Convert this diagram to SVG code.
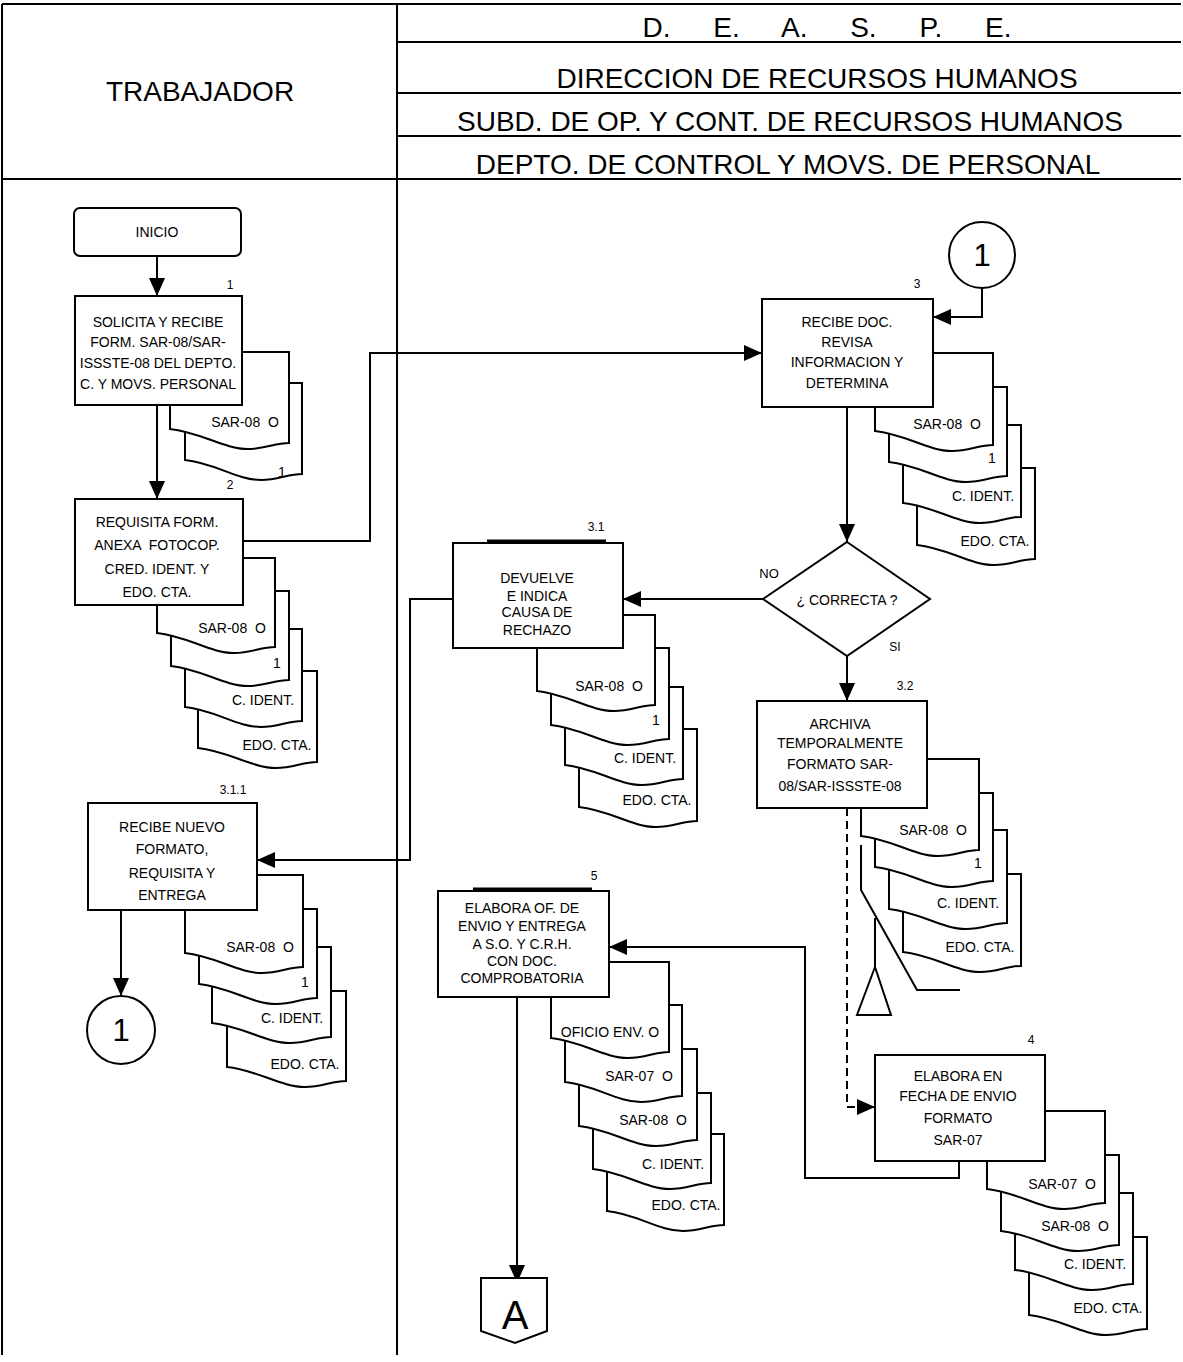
<svg xmlns="http://www.w3.org/2000/svg" width="1183" height="1362" viewBox="0 0 1183 1362">
<style>
.ln{stroke:#000;stroke-width:2;fill:none}
.dash{stroke:#000;stroke-width:2;fill:none;stroke-dasharray:8 5}
.box{fill:#fff;stroke:#000;stroke-width:2}
.doc{fill:#fff;stroke:#000;stroke-width:2;stroke-linejoin:miter}
text{font-family:"Liberation Sans",Arial,sans-serif;fill:#000}
.t{font-size:14px;text-anchor:middle}
.d{font-size:14px;text-anchor:middle;white-space:pre}
.lbl{font-size:12px;text-anchor:middle}
.h{font-size:28px;text-anchor:middle}
.big{font-size:31px;text-anchor:middle}
</style>
<defs>
<marker id="ah" viewBox="0 0 18 16" refX="18" refY="8" markerWidth="18" markerHeight="16" markerUnits="userSpaceOnUse" orient="auto">
<path d="M0,0 L18,8 L0,16 Z" fill="#000"/>
</marker>
</defs>

<g id="header">
<path class="ln" d="M2,4 H1181 M2,4 V1355 M397,4 V1355 M397,42 H1181 M397,93 H1181 M397,136 H1181 M2,179 H1181"/>
<text class="h" x="200" y="101">TRABAJADOR</text>
<text class="h" x="827" y="37" word-spacing="35">D. E. A. S. P. E.</text>
<text class="h" x="817" y="88">DIRECCION DE RECURSOS HUMANOS</text>
<text class="h" x="790" y="131">SUBD. DE OP. Y CONT. DE RECURSOS HUMANOS</text>
<text class="h" x="788" y="174">DEPTO. DE CONTROL Y MOVS. DE PERSONAL</text>
</g>

<g id="connectors">
<path class="ln" d="M157,257 V296" marker-end="url(#ah)"/>
<path class="ln" d="M157,405 V499" marker-end="url(#ah)"/>
<path class="ln" d="M243,541 H370 V353 H762" marker-end="url(#ah)"/>
<path class="ln" d="M982,288 V317 H933" marker-end="url(#ah)"/>
<path class="ln" d="M847,407 V542" marker-end="url(#ah)"/>
<path class="ln" d="M763,599 H623" marker-end="url(#ah)"/>
<path class="ln" d="M847,656 V701" marker-end="url(#ah)"/>
<path class="ln" d="M453,599 H410 V860 H257" marker-end="url(#ah)"/>
<path class="ln" d="M121,910 V996" marker-end="url(#ah)"/>
<path class="dash" d="M847,808 V1107 H875" marker-end="url(#ah)"/>
<path class="ln" d="M959,1161 V1178 H805 V947 H609" marker-end="url(#ah)"/>
<path class="ln" d="M517,997 V1283" marker-end="url(#ah)"/>
</g>

<g id="inicio">
<rect class="box" x="74" y="208" width="167" height="48" rx="6"/>
<text class="t" x="157" y="237">INICIO</text>
</g>

<g id="step1">
<path class="doc" d="M185,383 H302 V474 C288,474 278,480 261,480 C237,480 215,463 185,460 Z"/>
<text class="d" x="282" y="477">1</text>
<path class="doc" d="M170,352 H289 V443 C275,443 265,449 248,449 C224,449 200,432 170,429 Z"/>
<text class="d" x="245" y="427">SAR-08  O</text>
<rect class="box" x="75" y="296" width="167" height="109"/>
<text class="lbl" x="230" y="289">1</text>
<text class="t" x="158" y="327">SOLICITA Y RECIBE</text>
<text class="t" x="158" y="347">FORM. SAR-08/SAR-</text>
<text class="t" x="158" y="368">ISSSTE-08 DEL DEPTO.</text>
<text class="t" x="158" y="389">C. Y MOVS. PERSONAL</text>
</g>

<g id="step2">
<path class="doc" d="M198,671 H317 V762 C303,762 293,768 276,768 C252,768 228,751 198,748 Z"/>
<text class="d" x="277" y="750">EDO. CTA.</text>
<path class="doc" d="M185,629 H302 V721 C288,721 278,727 261,727 C237,727 215,710 185,707 Z"/>
<text class="d" x="263" y="705">C. IDENT.</text>
<path class="doc" d="M171,591 H289 V680 C275,680 265,686 248,686 C224,686 201,669 171,666 Z"/>
<text class="d" x="277" y="668">1</text>
<path class="doc" d="M157,558 H275 V647 C261,647 251,653 234,653 C210,653 187,636 157,633 Z"/>
<text class="d" x="232" y="633">SAR-08  O</text>
<rect class="box" x="75" y="499" width="168" height="106"/>
<text class="lbl" x="230" y="489">2</text>
<text class="t" x="157" y="527">REQUISITA FORM.</text>
<text class="d" x="157" y="550">ANEXA  FOTOCOP.</text>
<text class="t" x="157" y="574">CRED. IDENT. Y</text>
<text class="t" x="157" y="597">EDO. CTA.</text>
</g>

<g id="connector-1-top">
<circle class="box" cx="982" cy="255" r="33"/>
<text class="big" x="982" y="266">1</text>
</g>

<g id="step3">
<path class="doc" d="M917,468 H1035 V559 C1021,559 1011,565 994,565 C970,565 947,548 917,545 Z"/>
<text class="d" x="995" y="546">EDO. CTA.</text>
<path class="doc" d="M903,425 H1021 V517 C1007,517 997,523 980,523 C956,523 933,506 903,503 Z"/>
<text class="d" x="983" y="501">C. IDENT.</text>
<path class="doc" d="M889,387 H1007 V476 C993,476 983,482 966,482 C942,482 919,465 889,462 Z"/>
<text class="d" x="992" y="463">1</text>
<path class="doc" d="M875,353 H993 V445 C979,445 969,451 952,451 C928,451 905,434 875,431 Z"/>
<text class="d" x="947" y="429">SAR-08  O</text>
<rect class="box" x="762" y="299" width="171" height="108"/>
<text class="lbl" x="917" y="288">3</text>
<text class="t" x="847" y="327">RECIBE DOC.</text>
<text class="t" x="847" y="347">REVISA</text>
<text class="t" x="847" y="367">INFORMACION Y</text>
<text class="t" x="847" y="388">DETERMINA</text>
</g>

<g id="decision">
<polygon class="box" points="847,542 930,599 847,656 763,599"/>
<text class="t" x="847" y="605">¿ CORRECTA ?</text>
<text class="lbl" x="769" y="578" style="font-size:13px">NO</text>
<text class="lbl" x="895" y="651">SI</text>
</g>

<g id="step3-1">
<path class="doc" d="M579,729 H697 V821 C683,821 673,827 656,827 C632,827 609,810 579,807 Z"/>
<text class="d" x="657" y="805">EDO. CTA.</text>
<path class="doc" d="M565,687 H683 V779 C669,779 659,785 642,785 C618,785 595,768 565,765 Z"/>
<text class="d" x="645" y="763">C. IDENT.</text>
<path class="doc" d="M551,648 H669 V739 C655,739 645,745 628,745 C604,745 581,728 551,725 Z"/>
<text class="d" x="656" y="725">1</text>
<path class="doc" d="M537,615 H655 V705 C641,705 631,711 614,711 C590,711 567,694 537,691 Z"/>
<text class="d" x="609" y="691">SAR-08  O</text>
<rect class="box" x="453" y="543" width="170" height="105"/>
<path class="ln" d="M487,541 H606" style="stroke-width:3"/>
<text class="lbl" x="596" y="531">3.1</text>
<text class="t" x="537" y="583">DEVUELVE</text>
<text class="t" x="537" y="601">E INDICA</text>
<text class="t" x="537" y="617">CAUSA DE</text>
<text class="t" x="537" y="635">RECHAZO</text>
</g>

<g id="step3-2">
<path class="doc" d="M903,874 H1021 V966 C1007,966 997,972 980,972 C956,972 933,955 903,952 Z"/>
<text class="d" x="980" y="952">EDO. CTA.</text>
<path class="doc" d="M889,830 H1007 V923 C993,923 983,929 966,929 C942,929 919,912 889,909 Z"/>
<text class="d" x="968" y="908">C. IDENT.</text>
<path class="doc" d="M875,793 H993 V881 C979,881 969,887 952,887 C928,887 905,870 875,867 Z"/>
<text class="d" x="978" y="868">1</text>
<path class="doc" d="M861,759 H979 V850 C965,850 955,856 938,856 C914,856 891,839 861,836 Z"/>
<text class="d" x="933" y="835">SAR-08  O</text>
<rect class="box" x="757" y="701" width="170" height="107"/>
<text class="lbl" x="905" y="690">3.2</text>
<text class="t" x="840" y="729">ARCHIVA</text>
<text class="t" x="840" y="748">TEMPORALMENTE</text>
<text class="t" x="840" y="769">FORMATO SAR-</text>
<text class="t" x="840" y="791">08/SAR-ISSSTE-08</text>
</g>

<g id="archive">
<path class="ln" d="M861,845 V890 L917,990 H960"/>
<path class="ln" d="M875,918 V967"/>
<polygon class="box" points="875,967 857,1015 891,1015"/>
</g>

<g id="step3-1-1">
<path class="doc" d="M227,991 H346 V1081 C332,1081 322,1087 305,1087 C281,1087 257,1070 227,1067 Z"/>
<text class="d" x="305" y="1069">EDO. CTA.</text>
<path class="doc" d="M212,947 H331 V1037 C317,1037 307,1043 290,1043 C266,1043 242,1026 212,1023 Z"/>
<text class="d" x="292" y="1023">C. IDENT.</text>
<path class="doc" d="M199,909 H317 V998 C303,998 293,1004 276,1004 C252,1004 229,987 199,984 Z"/>
<text class="d" x="305" y="987">1</text>
<path class="doc" d="M185,875 H303 V967 C289,967 279,973 262,973 C238,973 215,956 185,953 Z"/>
<text class="d" x="260" y="952">SAR-08  O</text>
<rect class="box" x="88" y="803" width="169" height="107"/>
<text class="lbl" x="233" y="794">3.1.1</text>
<text class="t" x="172" y="832">RECIBE NUEVO</text>
<text class="t" x="172" y="854">FORMATO,</text>
<text class="t" x="172" y="878">REQUISITA Y</text>
<text class="t" x="172" y="900">ENTREGA</text>
</g>

<g id="connector-1-bottom">
<circle class="box" cx="121" cy="1030" r="34"/>
<text class="big" x="121" y="1041">1</text>
</g>

<g id="step5">
<path class="doc" d="M607,1134 H724 V1225 C710,1225 700,1231 683,1231 C659,1231 637,1214 607,1211 Z"/>
<text class="d" x="686" y="1210">EDO. CTA.</text>
<path class="doc" d="M593,1093 H711 V1183 C697,1183 687,1189 670,1189 C646,1189 623,1172 593,1169 Z"/>
<text class="d" x="673" y="1169">C. IDENT.</text>
<path class="doc" d="M579,1049 H697 V1140 C683,1140 673,1146 656,1146 C632,1146 609,1129 579,1126 Z"/>
<text class="d" x="653" y="1125">SAR-08  O</text>
<path class="doc" d="M565,1005 H682 V1096 C668,1096 658,1102 641,1102 C617,1102 595,1085 565,1082 Z"/>
<text class="d" x="639" y="1081">SAR-07  O</text>
<path class="doc" d="M551,962 H669 V1052 C655,1052 645,1058 628,1058 C604,1058 581,1041 551,1038 Z"/>
<text class="d" x="610" y="1037">OFICIO ENV. O</text>
<rect class="box" x="438" y="891" width="171" height="106"/>
<path class="ln" d="M473,889 H592" style="stroke-width:3"/>
<text class="lbl" x="594" y="880">5</text>
<text class="t" x="522" y="913">ELABORA OF. DE</text>
<text class="t" x="522" y="931">ENVIO Y ENTREGA</text>
<text class="t" x="522" y="949">A S.O. Y C.R.H.</text>
<text class="t" x="522" y="966">CON DOC.</text>
<text class="t" x="522" y="983">COMPROBATORIA</text>
</g>

<g id="step4">
<path class="doc" d="M1029,1237 H1147 V1329 C1133,1329 1123,1335 1106,1335 C1082,1335 1059,1318 1029,1315 Z"/>
<text class="d" x="1108" y="1313">EDO. CTA.</text>
<path class="doc" d="M1015,1193 H1133 V1284 C1119,1284 1109,1290 1092,1290 C1068,1290 1045,1273 1015,1270 Z"/>
<text class="d" x="1095" y="1269">C. IDENT.</text>
<path class="doc" d="M1001,1155 H1119 V1245 C1105,1245 1095,1251 1078,1251 C1054,1251 1031,1234 1001,1231 Z"/>
<text class="d" x="1075" y="1231">SAR-08  O</text>
<path class="doc" d="M987,1111 H1105 V1203 C1091,1203 1081,1209 1064,1209 C1040,1209 1017,1192 987,1189 Z"/>
<text class="d" x="1062" y="1189">SAR-07  O</text>
<rect class="box" x="875" y="1055" width="170" height="106"/>
<text class="lbl" x="1031" y="1044">4</text>
<text class="t" x="958" y="1081">ELABORA EN</text>
<text class="t" x="958" y="1101">FECHA DE ENVIO</text>
<text class="t" x="958" y="1123">FORMATO</text>
<text class="t" x="958" y="1145">SAR-07</text>
</g>

<g id="offpage-A">
<polygon class="box" points="481,1278 547,1278 547,1331 515,1343 481,1331"/>
<text class="big" x="515" y="1329" style="font-size:40px">A</text>
</g>
</svg>
